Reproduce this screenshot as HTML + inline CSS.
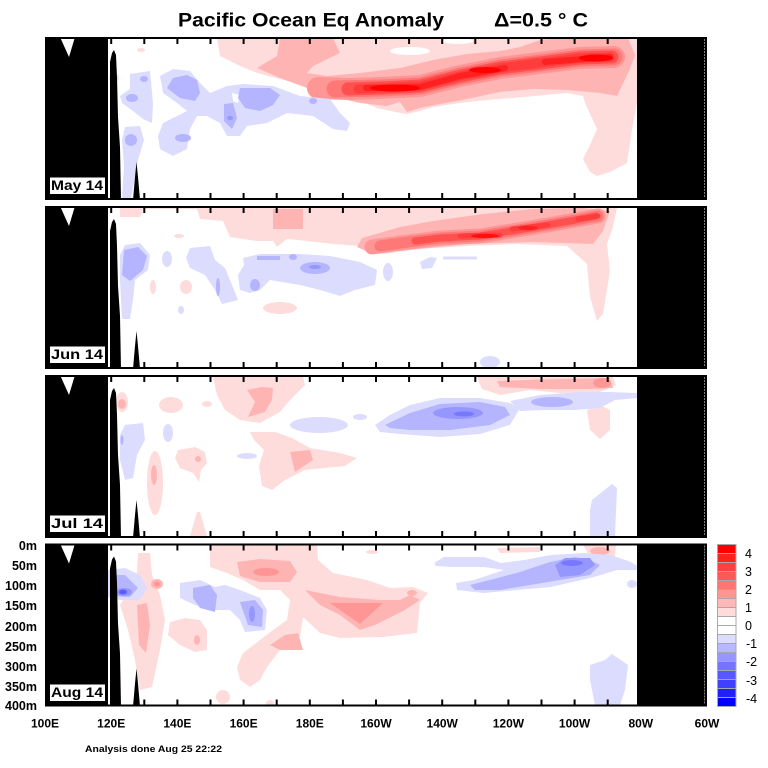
<!DOCTYPE html>
<html><head><meta charset="utf-8"><style>
html,body{margin:0;padding:0;background:#fff;}
svg{display:block;}
text{font-family:"Liberation Sans",sans-serif;}
</style></head><body>
<svg width="768" height="768" viewBox="0 0 768 768" xmlns="http://www.w3.org/2000/svg">
<defs>
<g id="frame">
 <rect x="45" y="0" width="63" height="163" fill="#000"/>
 <polygon points="60,0 75,0 69,20" fill="#fff"/>
 <polygon points="110,163 110,25 112,16 114,13 116,18 117,40 118,80 120,110 121,163" fill="#000"/>
 <polygon points="133,163 135,140 136.5,125 138,140 140,163" fill="#000"/>
 <rect x="637" y="0" width="70" height="163" fill="#000"/>
 <line x1="705" y1="2" x2="705" y2="161" stroke="#fff" stroke-width="1" stroke-dasharray="2 1"/>
 <rect x="46" y="1" width="660" height="161" fill="none" stroke="#000" stroke-width="2"/>
 <path d="M111.2,1v6M144.3,1v6M177.4,1v6M210.5,1v6M243.6,1v6M276.7,1v6M309.8,1v6M342.9,1v6M376,1v6M409.1,1v6M442.2,1v6M475.3,1v6M508.4,1v6M541.5,1v6M574.6,1v6M607.7,1v6
 M111.2,162v-6M144.3,162v-6M177.4,162v-6M210.5,162v-6M243.6,162v-6M276.7,162v-6M309.8,162v-6M342.9,162v-6M376,162v-6M409.1,162v-6M442.2,162v-6M475.3,162v-6M508.4,162v-6M541.5,162v-6M574.6,162v-6M607.7,162v-6" stroke="#000" stroke-width="2" fill="none"/>
</g>
</defs>

<!-- Title -->
<text x="178" y="26.5" font-size="19" font-weight="bold" textLength="266" lengthAdjust="spacingAndGlyphs">Pacific Ocean Eq Anomaly</text>
<text x="494" y="26.5" font-size="19" font-weight="bold" textLength="94" lengthAdjust="spacingAndGlyphs">Δ=0.5 ° C</text>

<!-- ================= PANEL 1 (May) top=37 ================= -->
<g>
 <polygon fill="#ffdcdc" points="215,38 217,39 220,56 240,66 257,73 280,79 307,86 333,94 360,101 377,108 395,112 407,114 420,111 433,107 467,102 500,99 535,96 567,93 583,96 585,103 597,129 590,145 583,159 590,172 597,176 610,172 627,163 632,130 637,103 637,38"/>
 <ellipse cx="410" cy="51" rx="20" ry="4" fill="#fff"/>
 <ellipse cx="458" cy="41" rx="15" ry="3" fill="#fff"/>
 <ellipse cx="141" cy="50" rx="4" ry="2" fill="#ffdcdc"/>
 <ellipse cx="114" cy="78" rx="5" ry="5" fill="#ffdcdc"/>
 <polygon fill="#ffb4b4" points="280,38 333,38 340,53 313,66 307,73 327,76 360,73 400,68 433,60 467,54 500,51 520,47 540,40 560,38 628,38 635,55 630,69 617,96 600,93 567,90 533,89 500,92 467,99 440,104 420,108 407,112 400,102 387,106 360,103 333,97 307,88 280,78 257,68 277,56"/>
 <g fill="none" stroke-linecap="round" stroke-linejoin="round">
  <path d="M318,88 L350,89 L380,88 L420,86 L460,76 L500,68 L540,63 L580,58 L614,57" stroke="#ff9696" stroke-width="22"/>
  <path d="M335,89 L380,88 L420,86 L460,76 L500,68 L540,63 L580,58 L614,57" stroke="#ff7878" stroke-width="17"/>
  <path d="M348,89 L380,88 L420,86 L460,76 L500,68 L540,63 L580,58 L612,57" stroke="#ff5050" stroke-width="13"/>
  <path d="M358,89 L380,88 L420,86 L460,76 L500,68 L540,63 L580,58 L610,57" stroke="#ff3c3c" stroke-width="9"/>
  <path d="M366,88 L420,87 L460,76 L505,68 M545,62 L610,57" stroke="#ff2020" stroke-width="6"/>
 </g>
 <ellipse cx="395" cy="88" rx="25" ry="3.5" fill="#ff0000"/>
 <ellipse cx="485" cy="70" rx="16" ry="3" fill="#ff0000"/>
 <ellipse cx="596" cy="58" rx="17" ry="3.5" fill="#ff0000"/>
 <!-- blue -->
 <polygon fill="#dcdcff" points="130,74 150,71 153,103 152,123 143,119 133,111 122,103 120,96 130,89"/>
 <polygon fill="#dcdcff" points="125,127 140,126 144,140 138,160 131,199 122,199 124,165 122,140"/>
 <polygon fill="#dcdcff" points="160,76 173,69 190,71 200,83 210,93 227,86 243,84 273,86 300,96 330,99 340,113 350,123 347,131 333,129 313,116 287,113 267,123 247,126 240,136 227,136 220,123 207,116 197,116 190,129 187,149 173,156 160,149 158,136 163,123 177,116 187,111 177,103 163,93"/>
 <polygon fill="#fff" points="232,93 240,95 238,103 233,101"/>
 <polygon fill="#b4b4ff" points="173,78 187,75 197,80 200,93 195,101 180,98 167,88"/>
 <polygon fill="#b4b4ff" points="240,88 270,88 280,95 273,105 260,111 245,108 238,98"/>
 <polygon fill="#b4b4ff" points="224,104 233,103 237,118 232,129 224,121"/>
 <ellipse cx="132" cy="98" rx="6" ry="4" fill="#b4b4ff"/>
 <ellipse cx="144" cy="79" rx="4" ry="3" fill="#b4b4ff"/>
 <ellipse cx="131" cy="140" rx="6" ry="6" fill="#b4b4ff"/>
 <ellipse cx="183" cy="138" rx="8" ry="4" fill="#b4b4ff"/>
 <ellipse cx="313" cy="101" rx="4" ry="3" fill="#b4b4ff"/>
 <ellipse cx="230" cy="118" rx="3" ry="2" fill="#9696ff"/>
</g>
<use href="#frame" x="0" y="37"/>
<rect x="49.5" y="177" width="56" height="17.5" fill="#fff" stroke="#000" stroke-width="1"/>
<text x="51" y="190" font-size="14" font-weight="bold" textLength="52" lengthAdjust="spacingAndGlyphs">May 14</text>

<!-- ================= PANEL 2 (Jun) top=206 ================= -->
<g>
 <polygon fill="#ffdcdc" points="120,208 120,217 140,217 143,209 197,209 200,219 223,221 230,237 257,241 273,241 277,247 287,239 307,241 333,244 360,246 383,254 417,249 467,246 517,244 567,246 587,264 590,297 597,321 603,314 610,271 607,244 613,227 617,208"/>
 <ellipse cx="186" cy="287" rx="6" ry="7" fill="#ffdcdc"/>
 <ellipse cx="153" cy="287" rx="3" ry="7" fill="#ffdcdc"/>
 <ellipse cx="280" cy="308" rx="17" ry="6" fill="#ffdcdc"/>
 <ellipse cx="179" cy="236" rx="5" ry="2" fill="#ffdcdc"/>
 <rect x="273" y="209" width="30" height="20" fill="#ffb4b4"/>
 <polygon fill="#ffb4b4" points="357,247 362,238 400,227 433,221 483,214 533,209 583,208 610,211 603,231 593,244 533,242 467,244 400,251 373,254"/>
 <g fill="none" stroke-linecap="round" stroke-linejoin="round">
  <path d="M372,247 L400,243 L440,238 L480,236 L530,228 L570,221 L598,216" stroke="#ff9696" stroke-width="15"/>
  <path d="M380,246 L400,243 L440,238 L480,236 L530,228 L570,221 L598,216" stroke="#ff7878" stroke-width="11"/>
  <path d="M415,241 L440,238 L480,236 L530,228 L570,221 L596,216" stroke="#ff5050" stroke-width="7"/>
  <path d="M460,236 L500,235 M512,229 L548,225 M578,219 L598,216" stroke="#ff3c3c" stroke-width="5"/>
 </g>
 <ellipse cx="485" cy="236" rx="14" ry="2.2" fill="#ff1010"/>
 <ellipse cx="528" cy="228" rx="10" ry="2.2" fill="#ff2020"/>
 <!-- blue -->
 <polygon fill="#dcdcff" points="125,245 140,243 150,255 148,270 135,280 133,300 130,319 122,319 120,280 120,255"/>
 <ellipse cx="167" cy="259" rx="5" ry="8" fill="#dcdcff"/>
 <polygon fill="#dcdcff" points="190,248 210,246 215,260 225,268 232,285 238,300 222,304 215,290 205,275 190,268 186,258"/>
 <polygon fill="#dcdcff" points="243,258 260,254 300,254 330,256 360,262 377,270 375,285 355,290 340,296 320,290 300,285 270,280 260,290 250,293 240,290 238,275 244,265"/>
 <ellipse cx="388" cy="272" rx="5" ry="9" fill="#dcdcff"/>
 <polygon fill="#dcdcff" points="420,262 430,257 437,258 432,268 422,269"/>
 <rect x="443" y="256.5" width="34" height="3" fill="#dcdcff"/>
 <ellipse cx="490" cy="362" rx="10" ry="6" fill="#dcdcff"/>
 <ellipse cx="181" cy="310" rx="3" ry="4" fill="#dcdcff"/>
 <polygon fill="#b4b4ff" points="124,250 138,247 147,256 143,270 130,281 122,275"/>
 <ellipse cx="315" cy="268" rx="15" ry="6" fill="#b4b4ff"/>
 <ellipse cx="255" cy="285" rx="5" ry="6" fill="#b4b4ff"/>
 <ellipse cx="218" cy="287" rx="2" ry="9" fill="#b4b4ff"/>
 <rect x="257" y="256" width="23" height="4" fill="#b4b4ff"/>
 <ellipse cx="293" cy="257" rx="4" ry="3" fill="#b4b4ff"/>
 <ellipse cx="315" cy="267" rx="6" ry="2" fill="#9696ff"/>
</g>
<use href="#frame" x="0" y="206"/>
<rect x="49.5" y="346" width="56" height="17.5" fill="#fff" stroke="#000" stroke-width="1"/>
<text x="51" y="359" font-size="14" font-weight="bold" textLength="52" lengthAdjust="spacingAndGlyphs">Jun 14</text>

<!-- ================= PANEL 3 (Jul) top=375 ================= -->
<g>
 <polygon fill="#ffdcdc" points="213,377 303,377 305,385 290,400 280,412 260,423 240,420 225,410 217,395"/>
 <ellipse cx="171" cy="405" rx="12" ry="8" fill="#ffdcdc"/>
 <ellipse cx="207" cy="404" rx="5" ry="3" fill="#ffdcdc"/>
 <ellipse cx="122" cy="402" rx="6" ry="10" fill="#ffdcdc"/>
 <polygon fill="#ffdcdc" points="250,432 275,432 292,438 310,448 340,453 357,458 345,466 305,470 285,480 272,490 262,486 259,466 264,450 254,440"/>
 <polygon fill="#ffdcdc" points="178,450 195,447 205,452 207,463 201,470 199,482 193,473 180,468 175,458"/>
 <ellipse cx="155" cy="483" rx="8" ry="32" fill="#ffdcdc"/>
 <polygon fill="#ffdcdc" points="190,536 197,512 200,512 207,536"/>
 <polygon fill="#ffdcdc" points="477,377 613,377 616,385 600,392 560,393 530,390 500,395 482,389"/>
 <polygon fill="#ffdcdc" points="587,410 600,405 610,410 610,430 600,439 590,430"/>
 <polygon fill="#ffb4b4" points="247,390 262,387 273,388 272,400 265,412 248,417 255,402"/>
 <ellipse cx="154" cy="475" rx="3" ry="10" fill="#ffb4b4"/>
 <polygon fill="#ffb4b4" points="290,452 310,450 313,460 295,472"/>
 <ellipse cx="122" cy="404" rx="4" ry="5" fill="#ffb4b4"/>
 <ellipse cx="198" cy="459" rx="3" ry="3" fill="#ffb4b4"/>
 <polygon fill="#ffb4b4" points="497,381 560,379 610,378 613,388 590,389 540,389 500,387"/>
 <ellipse cx="602" cy="383" rx="9" ry="5" fill="#ff9696"/>
 <!-- blue -->
 <ellipse cx="319" cy="425" rx="29" ry="8" fill="#dcdcff"/>
 <ellipse cx="360" cy="417" rx="7" ry="3" fill="#dcdcff"/>
 <polygon fill="#dcdcff" points="375,425 390,415 410,405 440,398 480,398 510,403 520,408 510,425 480,434 440,437 400,434 380,432"/>
 <polygon fill="#dcdcff" points="510,401 540,395 580,392 610,392 637,393 637,398 615,400 600,408 575,410 545,410 520,411"/>
 <polygon fill="#dcdcff" points="125,425 143,423 145,440 137,455 133,478 125,480 120,460 120,435"/>
 <ellipse cx="168" cy="433" rx="5" ry="9" fill="#dcdcff"/>
 <ellipse cx="247" cy="456" rx="10" ry="3" fill="#dcdcff"/>
 <polygon fill="#dcdcff" points="592,500 612,484 617,488 615,536 590,536 590,510"/>
 <polygon fill="#b4b4ff" points="385,425 410,413 440,404 480,402 505,407 510,415 490,425 450,430 410,430 390,428"/>
 <ellipse cx="552" cy="402" rx="21" ry="5" fill="#b4b4ff"/>
 <ellipse cx="458" cy="413" rx="25" ry="6" fill="#9696ff"/>
 <ellipse cx="464" cy="414" rx="10" ry="2.5" fill="#7878ff"/>
 <ellipse cx="122" cy="440" rx="1.5" ry="5" fill="#b4b4ff"/>
</g>
<use href="#frame" x="0" y="375"/>
<rect x="49.5" y="515" width="56" height="17.5" fill="#fff" stroke="#000" stroke-width="1"/>
<text x="51" y="528" font-size="14" font-weight="bold" textLength="52" lengthAdjust="spacingAndGlyphs">Jul 14</text>

<!-- ================= PANEL 4 (Aug) top=543.5 ================= -->
<g>
 <polygon fill="#ffdcdc" points="210,545 317,545 318,560 333,573 367,580 390,588 413,587 428,593 420,603 417,633 383,637 340,638 320,633 303,617 300,637 280,650 267,667 260,680 250,687 240,680 237,667 243,653 260,640 273,630 287,620 290,600 280,590 260,590 243,580 227,573 210,567"/>
 <polygon fill="#ffdcdc" points="138,553 150,553 152,575 160,595 165,620 160,650 152,687 140,690 135,660 128,630 120,605 125,597 135,590 137,570"/>
 <polygon fill="#ffdcdc" points="170,622 185,618 200,620 207,630 207,650 195,652 180,645 168,635"/>
 <ellipse cx="223" cy="697" rx="7" ry="7" fill="#ffdcdc"/>
 <ellipse cx="270" cy="703" rx="4" ry="3" fill="#ffdcdc"/>
 <polygon fill="#ffdcdc" points="497,548 540,547 540,552 500,553"/>
 <polygon fill="#ffdcdc" points="583,545 616,545 615,556 590,557"/>
 <ellipse cx="372" cy="552" rx="6" ry="2" fill="#ffdcdc"/>
 <polygon fill="#ffb4b4" points="237,562 260,559 290,561 297,572 290,582 260,582 240,576"/>
 <ellipse cx="266" cy="572" rx="13" ry="4" fill="#ff9696"/>
 <polygon fill="#ffb4b4" points="305,590 340,597 380,600 400,600 410,595 420,600 405,610 375,625 360,630 340,615 320,605"/>
 <polygon fill="#ff9696" points="330,603 383,603 360,624"/>
 <polygon fill="#ffb4b4" points="270,645 285,635 298,633 303,650 280,650"/>
 <polygon fill="#ffb4b4" points="137,605 147,603 150,625 146,653 139,645"/>
 <ellipse cx="157" cy="584" rx="6" ry="5" fill="#ffb4b4"/>
 <ellipse cx="157" cy="584" rx="3" ry="2.5" fill="#ff9696"/>
 <ellipse cx="412" cy="593" rx="5" ry="3" fill="#ffb4b4"/>
 <ellipse cx="600" cy="551" rx="10" ry="4" fill="#ffb4b4"/>
 <ellipse cx="197" cy="640" rx="3" ry="5" fill="#ffb4b4"/>
 <!-- blue -->
 <polygon fill="#dcdcff" points="108,570 125,568 140,575 147,588 140,600 120,600 108,597"/>
 <polygon fill="#dcdcff" points="180,583 200,580 215,587 225,585 240,590 260,598 267,610 265,630 245,632 240,620 230,610 215,610 195,605 180,598"/>
 <polygon fill="#dcdcff" points="434,563 444,557 484,557 501,563 524,560 551,555 584,553 611,555 631,562 637,566 637,570 617,570 594,577 551,587 517,590 484,593 457,590 456,583 474,580 504,570 484,567 451,567 436,566"/>
 <ellipse cx="632" cy="584" rx="5" ry="4" fill="#dcdcff"/>
 <polygon fill="#dcdcff" points="590,665 605,660 612,654 628,665 625,690 620,705 595,705 590,680"/>
 <polygon fill="#b4b4ff" points="110,575 125,575 138,588 130,597 110,596"/>
 <ellipse cx="124" cy="592" rx="8" ry="4" fill="#9696ff"/>
 <ellipse cx="123" cy="592" rx="4" ry="2.5" fill="#5c5cff"/>
 <polygon fill="#b4b4ff" points="193,588 210,585 217,595 215,612 200,608 193,598"/>
 <polygon fill="#b4b4ff" points="240,602 255,600 263,610 262,627 248,625"/>
 <ellipse cx="252" cy="614" rx="3" ry="8" fill="#9696ff"/>
 <polygon fill="#b4b4ff" points="470,585 490,580 520,572 550,562 575,557 590,560 600,565 590,575 560,580 530,585 500,590 475,590"/>
 <polygon fill="#9696ff" points="555,565 565,558 590,558 595,565 580,575 560,577"/>
 <ellipse cx="572" cy="563" rx="11" ry="3" fill="#7878ff"/>
</g>
<use href="#frame" x="0" y="543.5"/>
<rect x="49.5" y="684" width="56" height="17.5" fill="#fff" stroke="#000" stroke-width="1"/>
<text x="51" y="697" font-size="14" font-weight="bold" textLength="52" lengthAdjust="spacingAndGlyphs">Aug 14</text>

<!-- Depth labels -->
<g font-size="12.5" font-weight="bold" text-anchor="end">
 <text x="37" y="550">0m</text>
 <text x="37" y="570">50m</text>
 <text x="37" y="590">100m</text>
 <text x="37" y="610">150m</text>
 <text x="37" y="631">200m</text>
 <text x="37" y="651">250m</text>
 <text x="37" y="671">300m</text>
 <text x="37" y="691">350m</text>
 <text x="37" y="710">400m</text>
</g>

<!-- Longitude labels -->
<g font-size="12" font-weight="bold" text-anchor="middle">
 <text x="45" y="727.5">100E</text>
 <text x="111.2" y="727.5">120E</text>
 <text x="177.4" y="727.5">140E</text>
 <text x="243.6" y="727.5">160E</text>
 <text x="309.8" y="727.5">180E</text>
 <text x="376" y="727.5">160W</text>
 <text x="442.2" y="727.5">140W</text>
 <text x="508.4" y="727.5">120W</text>
 <text x="574.6" y="727.5">100W</text>
 <text x="640.8" y="727.5">80W</text>
 <text x="707" y="727.5">60W</text>
</g>

<text x="85" y="752" font-size="9" font-weight="bold" textLength="137" lengthAdjust="spacingAndGlyphs">Analysis done Aug 25 22:22</text>

<!-- Legend -->
<g stroke="#a8a8a8" stroke-width="1">
 <rect x="717.5" y="544.5" width="18.5" height="9" fill="#ff0000"/>
 <rect x="717.5" y="553.5" width="18.5" height="9" fill="#ff2020"/>
 <rect x="717.5" y="562.5" width="18.5" height="9" fill="#ff4040"/>
 <rect x="717.5" y="571.5" width="18.5" height="9" fill="#ff5858"/>
 <rect x="717.5" y="580.5" width="18.5" height="9" fill="#ff7474"/>
 <rect x="717.5" y="589.5" width="18.5" height="9" fill="#ff9696"/>
 <rect x="717.5" y="598.5" width="18.5" height="9" fill="#ffb8b8"/>
 <rect x="717.5" y="607.5" width="18.5" height="9" fill="#ffdcdc"/>
 <rect x="717.5" y="616.5" width="18.5" height="9" fill="#ffffff"/>
 <rect x="717.5" y="625.5" width="18.5" height="9" fill="#ffffff"/>
 <rect x="717.5" y="634.5" width="18.5" height="9" fill="#dcdcff"/>
 <rect x="717.5" y="643.5" width="18.5" height="9" fill="#b8b8ff"/>
 <rect x="717.5" y="652.5" width="18.5" height="9" fill="#9696ff"/>
 <rect x="717.5" y="661.5" width="18.5" height="9" fill="#7474ff"/>
 <rect x="717.5" y="670.5" width="18.5" height="9" fill="#5858ff"/>
 <rect x="717.5" y="679.5" width="18.5" height="9" fill="#4040ff"/>
 <rect x="717.5" y="688.5" width="18.5" height="9" fill="#2020ff"/>
 <rect x="717.5" y="697.5" width="18.5" height="9" fill="#0000ff"/>
</g>
<g font-size="12.5">
 <text x="745" y="558">4</text>
 <text x="745" y="576">3</text>
 <text x="745" y="594">2</text>
 <text x="745" y="612">1</text>
 <text x="745" y="630">0</text>
 <text x="746" y="648">-1</text>
 <text x="746" y="666">-2</text>
 <text x="746" y="685">-3</text>
 <text x="746" y="703">-4</text>
</g>
</svg>
</body></html>
